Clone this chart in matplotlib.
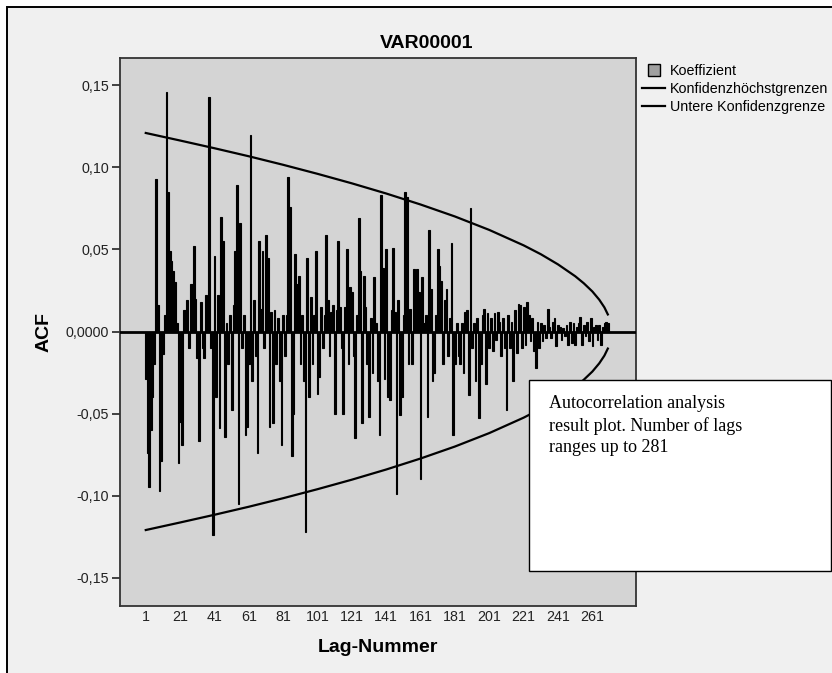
import matplotlib
matplotlib.use("Agg")
import matplotlib.pyplot as plt
from matplotlib.patches import Rectangle
from matplotlib.lines import Line2D
import numpy as np

plt.rcParams["font.family"] = ["Liberation Sans", "DejaVu Sans"]

# ACF coefficients for lags 1..270
acf = [
    -0.029, -0.074, -0.095, -0.060, -0.040, -0.020, 0.093, 0.016, -0.097, -0.079,
    -0.014, 0.010, 0.146, 0.085, 0.049, 0.043, 0.037, 0.030, 0.005, -0.080,
    -0.055, -0.069, 0.013, 0.013, 0.019, -0.010, 0.029, 0.029, 0.052, 0.020,
    -0.016, -0.067, 0.018, -0.010, -0.016, 0.022, 0.010, 0.143, -0.010, -0.124,
    0.046, -0.040, 0.022, -0.059, 0.070, 0.055, -0.064, 0.005, -0.020, 0.010,
    -0.048, 0.016, 0.049, 0.089, -0.105, 0.066, -0.010, 0.010, -0.063, -0.058,
    -0.020, 0.120, -0.030, 0.019, -0.015, -0.074, 0.055, 0.014, 0.049, -0.010,
    0.059, 0.045, -0.058, 0.012, -0.056, 0.013, -0.020, 0.008, -0.030, -0.069,
    0.010, -0.015, 0.010, 0.094, 0.076, -0.076, -0.050, 0.047, 0.029, 0.034,
    -0.020, 0.010, -0.030, -0.122, 0.045, -0.040, 0.021, -0.020, 0.010, 0.049,
    -0.038, -0.028, 0.015, -0.010, 0.010, 0.059, 0.019, -0.015, 0.012, 0.016,
    -0.050, 0.013, 0.055, 0.015, -0.010, -0.050, 0.015, 0.050, -0.020, 0.027,
    0.024, -0.015, -0.065, 0.010, 0.069, 0.037, -0.056, 0.034, 0.015, -0.020,
    -0.052, 0.008, -0.025, 0.033, 0.005, -0.030, -0.063, 0.083, 0.039, -0.029,
    0.050, -0.040, -0.042, 0.013, 0.051, 0.012, -0.099, 0.019, -0.051, -0.040,
    0.010, 0.085, 0.082, -0.020, 0.014, -0.020, 0.038, 0.008, 0.038, 0.024,
    -0.090, 0.033, 0.005, 0.010, -0.052, 0.062, 0.026, -0.030, -0.025, 0.010,
    0.050, 0.040, 0.031, -0.020, 0.019, 0.026, -0.015, 0.008, 0.054, -0.063,
    -0.020, 0.005, -0.015, -0.020, 0.005, -0.025, 0.012, 0.013, -0.039, 0.075,
    -0.010, 0.005, -0.030, 0.008, -0.053, -0.020, 0.010, 0.014, -0.032, 0.011,
    -0.010, 0.008, -0.012, 0.011, -0.005, 0.012, 0.006, -0.015, 0.008, -0.010,
    -0.048, 0.010, -0.010, 0.006, -0.030, 0.013, -0.013, 0.017, 0.016, -0.010,
    0.015, -0.008, 0.018, 0.010, -0.006, 0.008, -0.012, -0.022, 0.006, -0.010,
    0.005, -0.006, 0.004, -0.004, 0.014, 0.003, -0.004, 0.006, 0.008, -0.009,
    0.004, 0.003, -0.005, 0.002, -0.003, 0.004, -0.008, 0.006, -0.007, 0.005,
    -0.008, 0.003, 0.005, 0.009, -0.008, 0.004, -0.003, 0.006, -0.006, 0.008,
    -0.009, 0.003, 0.004, -0.005, 0.004, -0.008, 0.003, 0.005, 0.006, 0.005,
]
lags = np.arange(1, len(acf) + 1)

# upper confidence limit (lower is the mirror)
bound_lags = [1, 21, 41, 61, 81, 101, 121, 141, 161, 181, 201, 221, 231, 241,
              251, 256, 261, 265, 268, 270]
upper = [0.1210, 0.1164, 0.1117, 0.1068, 0.1016, 0.0961, 0.0903, 0.0841, 0.0774,
         0.0701, 0.0619, 0.0525, 0.0471, 0.0409, 0.0337, 0.0294, 0.0244, 0.0194,
         0.0147, 0.0104]
lower = [-v for v in upper]

ytick_vals = [0.15, 0.10, 0.05, 0.0, -0.05, -0.10, -0.15]
ytick_labels = ["0,15", "0,10", "0,05", "0,0000", "-0,05", "-0,10", "-0,15"]
xtick_vals = list(range(1, 262, 20))

W, H = 832, 673
fig = plt.figure(figsize=(W / 100, H / 100), dpi=100)
fig.patch.set_facecolor("white")

# chart frame (left/top edges visible, rest runs off the picture)
fig.patches.append(Rectangle((7 / W, -0.1), 1.0, 1 - 7 / H + 0.1, transform=fig.transFigure,
                             facecolor="#f0f0f0", edgecolor="black", lw=1.4, zorder=-5))

ax = fig.add_axes([120 / W, 1 - 606 / H, 516 / W, 548 / H])
ax.set_facecolor("#d4d4d4")
for s in ax.spines.values():
    s.set_color("#333333")
    s.set_linewidth(1.3)

ax.bar(lags, acf, width=1.0, color="black", edgecolor="black", linewidth=0.8, zorder=2)
ax.axhline(0, color="black", lw=2, zorder=3)
ax.plot(bound_lags, upper, color="black", lw=1.6, zorder=4)
ax.plot(bound_lags, lower, color="black", lw=1.6, zorder=4)

ax.set_xlim(-14, 286.4)
ax.set_ylim(-0.1673, 0.1667)
ax.set_yticks(ytick_vals)
ax.set_yticklabels(ytick_labels)
ax.set_xticks(xtick_vals)
ax.set_xticklabels([str(v) for v in xtick_vals])
ax.tick_params(axis="y", length=6, width=1.3, color="#333333", labelsize=10.3, pad=2,
               labelcolor="#222222")
ax.tick_params(axis="x", length=0, labelsize=10.3, pad=3, labelcolor="#222222")

fig.text(427 / W, 1 - 43 / H, "VAR00001", fontsize=14, fontweight="bold",
         ha="center", va="center")
ax.set_ylabel("ACF", fontsize=14, fontweight="bold", va="center")
ax.yaxis.set_label_coords((44 - 120) / 516, 0.5)
ax.set_xlabel("Lag-Nummer", fontsize=14, fontweight="bold", va="center")
ax.xaxis.set_label_coords(0.5, (606 - 648) / 548)

handles = [
    Line2D([0], [0], linestyle="none", marker="s", markersize=8,
           markerfacecolor="#a0a0a0", markeredgecolor="black", markeredgewidth=1),
    Line2D([0], [0], color="black", lw=1.6),
    Line2D([0], [0], color="black", lw=1.6),
]
labels = ["Koeffizient", "Konfidenzhöchstgrenzen", "Untere Konfidenzgrenze"]
ax.legend(handles, labels, loc="upper left", bbox_to_anchor=(1.0, 1.0), frameon=False,
          fontsize=10.3, handlelength=1.6, handletextpad=0.3,
          labelspacing=0.25, borderaxespad=0.1, borderpad=0.35)

# annotation box
fig.patches.append(Rectangle((529 / W, 1 - 571 / H), 302 / W, 191 / H, transform=fig.transFigure,
                             facecolor="white", edgecolor="black", lw=1.0, zorder=10))
fig.text(549 / W, 1 - 395 / H,
         "Autocorrelation analysis\nresult plot. Number of lags\nranges up to 281",
         family=["Liberation Serif", "DejaVu Serif"], fontsize=13, va="top", ha="left",
         linespacing=1.35, zorder=11)

fig.savefig("out.png", dpi=100, facecolor=fig.get_facecolor())
